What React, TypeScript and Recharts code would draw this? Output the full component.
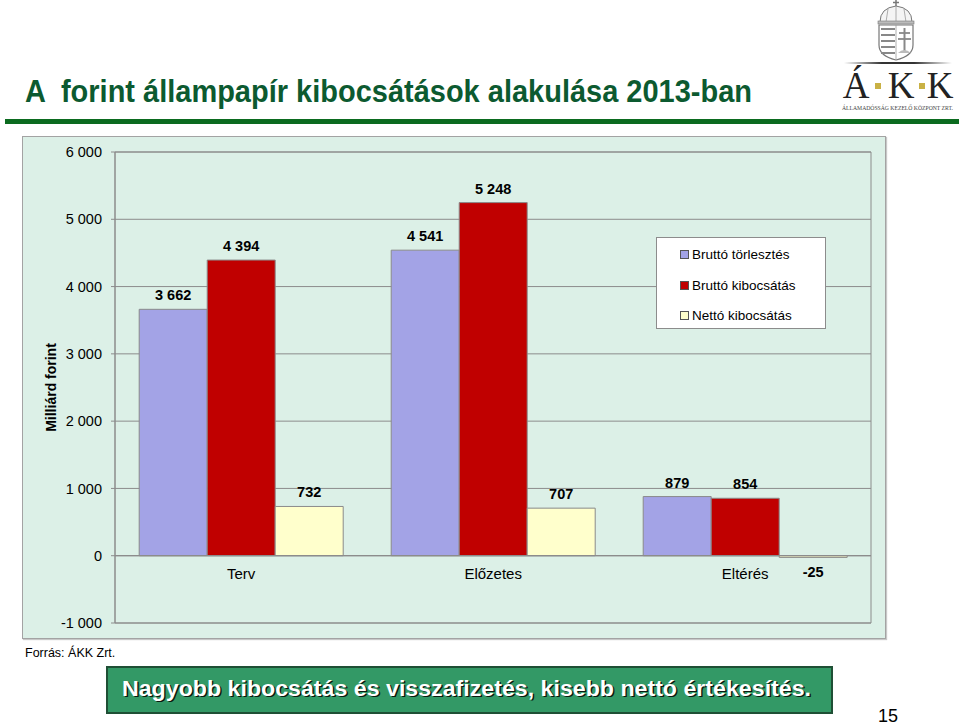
import React from 'react';
import {
  BarChart,
  Bar,
  XAxis,
  YAxis,
  CartesianGrid,
  ReferenceLine,
  ReferenceArea,
  LabelList,
  Legend,
} from 'recharts';

// ---- data ----
const categories = ['Terv', 'Előzetes', 'Eltérés'];
const bruttoTorlesztes = [3662, 4541, 879];
const bruttoKibocsatas = [4394, 5248, 854];
const nettoKibocsatas = [732, 707, -25];
const seriesKeys = ['torl', 'kib', 'netto'];
const seriesNames = ['Bruttó törlesztés', 'Bruttó kibocsátás', 'Nettó kibocsátás'];
const yTicks = [-1000, 0, 1000, 2000, 3000, 4000, 5000, 6000];
const yDomain = [-1000, 6000];

const titleText = 'A  forint állampapír kibocsátások alakulása 2013-ban';
const yAxisTitle = 'Milliárd forint';
const sourceText = 'Forrás: ÁKK Zrt.';
const conclusionText = 'Nagyobb kibocsátás és visszafizetés, kisebb nettó értékesítés.';
const pageNumber = '15';

const data = categories.map((cat, i) => ({
  cat,
  torl: bruttoTorlesztes[i],
  kib: bruttoKibocsatas[i],
  netto: nettoKibocsatas[i],
}));

const COLORS: Record<string, string> = {
  torl: '#a3a3e6',
  kib: '#c00000',
  netto: '#ffffcc',
};

const FONT = '"Liberation Sans", Arial, Helvetica, sans-serif';
const SERIF = '"Liberation Serif", "DejaVu Serif", serif';
const GRID = '#8c8c8c';

const fmt = (v: any) => {
  const n = Number(v);
  const s = String(Math.abs(n)).replace(/\B(?=(\d{3})+(?!\d))/g, ' ');
  return (n < 0 ? '-' : '') + s;
};

const renderLegend = (props: any) => {
  const payload: any[] = props.payload || [];
  const items = seriesKeys.map((k, i) => {
    const p = payload.find((e) => e.dataKey === k);
    return { key: k, name: p ? p.value : seriesNames[i], color: COLORS[k] };
  });
  return (
    <div
      style={{
        position: 'relative',
        width: 170,
        height: 92,
        background: '#ffffff',
        border: '1px solid #8c8c8c',
        boxSizing: 'border-box',
        fontFamily: FONT,
        fontSize: 13.5,
        color: '#000',
      }}
    >
      {items.map((e, i) => (
        <div
          key={e.key}
          style={{
            position: 'absolute',
            left: 23,
            top: 8 + i * 30.5,
            height: 17,
            display: 'flex',
            alignItems: 'center',
            whiteSpace: 'nowrap',
          }}
        >
          <span
            style={{
              display: 'inline-block',
              width: 7,
              height: 7,
              background: e.color,
              border: '1px solid #555',
              marginRight: 3,
            }}
          />
          {e.name}
        </div>
      ))}
    </div>
  );
};

const CategoryLabel = (props: any) => {
  const vb = props.viewBox || props;
  const x = vb.x + vb.width / 2;
  const bottom = vb.y + Math.max(vb.height, 0);
  return (
    <text
      x={x}
      y={bottom + 23}
      textAnchor="middle"
      fontFamily={FONT}
      fontSize={15}
      fill="#000"
    >
      {props.value}
    </text>
  );
};

const YTitle = (props: any) => {
  const vb = props.viewBox;
  const cx = vb.x + 28;
  const cy = vb.y + vb.height / 2;
  return (
    <text
      x={cx}
      y={cy}
      transform={`rotate(-90 ${cx} ${cy})`}
      textAnchor="middle"
      dominantBaseline="central"
      fontFamily={FONT}
      fontWeight="bold"
      fontSize={14}
      fill="#000"
    >
      {yAxisTitle}
    </text>
  );
};

const valueLabelStyle = {
  fontFamily: FONT,
  fontSize: 14.5,
  fontWeight: 'bold' as const,
  fill: '#000',
};

const Logo = () => (
  <g>
    {/* crown */}
    <line x1={896} y1={0} x2={896} y2={6} stroke="#777" strokeWidth={1.5} />
    <line x1={893} y1={2.5} x2={899} y2={2.5} stroke="#777" strokeWidth={1.5} />
    <path
      d="M880 22 Q880 8 896 6 Q912 8 912 22 Z"
      fill="#f4f4f4"
      stroke="#777"
      strokeWidth={1}
    />
    <line x1={888} y1={9} x2={886} y2={22} stroke="#999" strokeWidth={0.8} />
    <line x1={896} y1={6} x2={896} y2={22} stroke="#999" strokeWidth={0.8} />
    <line x1={904} y1={9} x2={906} y2={22} stroke="#999" strokeWidth={0.8} />
    <rect x={878} y={21} width={36} height={3} fill="#bbb" stroke="#777" strokeWidth={0.6} />
    {/* shield */}
    <path
      d="M879 25 L913 25 L913 45 Q913 56 896 60 Q879 56 879 45 Z"
      fill="#ffffff"
      stroke="#777"
      strokeWidth={1.2}
    />
    <line x1={896} y1={25} x2={896} y2={59} stroke="#999" strokeWidth={0.8} />
    {[29, 35, 41, 47, 53].map((y) => (
      <line key={y} x1={881} y1={y} x2={895} y2={y} stroke="#888" strokeWidth={2} />
    ))}
    <line x1={904.5} y1={28} x2={904.5} y2={52} stroke="#888" strokeWidth={2} />
    <line x1={899} y1={33} x2={910} y2={33} stroke="#888" strokeWidth={1.8} />
    <line x1={898} y1={39} x2={911} y2={39} stroke="#888" strokeWidth={1.8} />
    <path d="M898 53 Q904 47 911 53 Z" fill="#bbb" />
    {/* rule */}
    <defs>
      <linearGradient id="logoRule" x1="0" x2="1" y1="0" y2="0">
        <stop offset="0" stopColor="#ffffff" />
        <stop offset="0.35" stopColor="#333333" />
        <stop offset="0.65" stopColor="#333333" />
        <stop offset="1" stopColor="#ffffff" />
      </linearGradient>
    </defs>
    <rect x={844} y={62} width={108} height={2} fill="url(#logoRule)" />
    {/* letters */}
    <text x={856} y={98} textAnchor="middle" fontFamily={SERIF} fontSize={37} fill="#222">
      Á
    </text>
    <rect x={875} y={83} width={6} height={6} fill="#c9b145" />
    <text x={901} y={98} textAnchor="middle" fontFamily={SERIF} fontSize={37} fill="#222">
      K
    </text>
    <rect x={919} y={83} width={6} height={6} fill="#c9b145" />
    <text x={940} y={98} textAnchor="middle" fontFamily={SERIF} fontSize={37} fill="#222">
      K
    </text>
    <text
      x={842}
      y={110}
      fontFamily={SERIF}
      fontSize={6}
      fill="#444"
      textLength={111}
      lengthAdjust="spacingAndGlyphs"
    >
      ÁLLAMADÓSSÁG KEZELŐ KÖZPONT ZRT.
    </text>
  </g>
);

export default function App() {
  return (
    <div
      style={{
        position: 'absolute',
        left: 0,
        top: 0,
        width: 959,
        height: 725,
        background: '#ffffff',
        overflow: 'hidden',
      }}
    >
      <svg
        width={959}
        height={725}
        style={{ position: 'absolute', left: 0, top: 0 }}
      >
        <text
          x={25}
          y={102}
          fontFamily={FONT}
          fontWeight="bold"
          fontSize={31}
          fill="#0c5a30"
          textLength={727}
          lengthAdjust="spacingAndGlyphs"
          style={{ whiteSpace: 'pre' }}
        >
          {titleText}
        </text>
        <rect x={5} y={119} width={954} height={5} fill="#0b6b1f" />
        <Logo />
        <text x={25} y={657} fontFamily={FONT} fontSize={12.5} fill="#000">
          {sourceText}
        </text>
        <rect
          x={107}
          y={667}
          width={725}
          height={46}
          fill="#339966"
          stroke="#1f4f35"
          strokeWidth={2}
        />
        <text
          x={123.5}
          y={697}
          fontFamily={FONT}
          fontWeight="bold"
          fontSize={22}
          fill="#0a1a10"
          textLength={689}
          lengthAdjust="spacingAndGlyphs"
        >
          {conclusionText}
        </text>
        <text
          x={122}
          y={695.5}
          fontFamily={FONT}
          fontWeight="bold"
          fontSize={22}
          fill="#ffffff"
          textLength={689}
          lengthAdjust="spacingAndGlyphs"
        >
          {conclusionText}
        </text>
        <text x={878} y={722} fontFamily={FONT} fontSize={18} fill="#000">
          {pageNumber}
        </text>
      </svg>

      <div
        style={{
          position: 'absolute',
          left: 22,
          top: 136,
          width: 864,
          height: 503,
          background: '#dcf0e7',
          border: '1px solid #a3a3a3',
          boxShadow: '1px 1px 1px #c8c8c8',
          boxSizing: 'border-box',
        }}
      />

      <div style={{ position: 'absolute', left: 23, top: 137 }}>
        <BarChart
          width={863}
          height={502}
          data={data}
          margin={{ top: 15, right: 15, left: 0, bottom: 16 }}
          barCategoryGap="9.6%"
          barGap={0}
        >
          <CartesianGrid horizontal vertical={false} stroke={GRID} strokeWidth={1} />
          <ReferenceArea
            y1={yDomain[0]}
            y2={yDomain[1]}
            fill="none"
            fillOpacity={0}
            stroke={GRID}
            strokeWidth={1}
            ifOverflow="visible"
          />
          <XAxis dataKey="cat" hide />
          <YAxis
            width={92}
            domain={yDomain}
            ticks={yTicks}
            interval={0}
            allowDataOverflow
            tickFormatter={fmt}
            axisLine={{ stroke: GRID }}
            tickLine={{ stroke: GRID }}
            tickSize={4}
            tickMargin={9}
            tick={{ fontFamily: FONT, fontSize: 14.5, fill: '#000' }}
            label={<YTitle />}
          />
          <ReferenceLine y={0} stroke={GRID} strokeWidth={1.2} />
          <Legend
            layout="vertical"
            align="center"
            verticalAlign="middle"
            content={renderLegend}
            wrapperStyle={{ left: 633, top: 100, width: 170, height: 92 }}
          />
          <Bar
            dataKey="torl"
            name={seriesNames[0]}
            fill={COLORS.torl}
            stroke="#8a8a8a"
            strokeWidth={1}
            isAnimationActive={false}
          >
            <LabelList
              dataKey="torl"
              position="top"
              offset={9}
              formatter={fmt}
              style={valueLabelStyle}
            />
          </Bar>
          <Bar
            dataKey="kib"
            name={seriesNames[1]}
            fill={COLORS.kib}
            stroke="#8a8a8a"
            strokeWidth={1}
            isAnimationActive={false}
          >
            <LabelList
              dataKey="kib"
              position="top"
              offset={9}
              formatter={fmt}
              style={valueLabelStyle}
            />
            <LabelList dataKey="cat" content={<CategoryLabel />} />
          </Bar>
          <Bar
            dataKey="netto"
            name={seriesNames[2]}
            fill={COLORS.netto}
            stroke="#8a8a8a"
            strokeWidth={1}
            isAnimationActive={false}
          >
            <LabelList
              dataKey="netto"
              position="top"
              offset={9}
              formatter={fmt}
              style={valueLabelStyle}
            />
          </Bar>
        </BarChart>
      </div>
    </div>
  );
}
